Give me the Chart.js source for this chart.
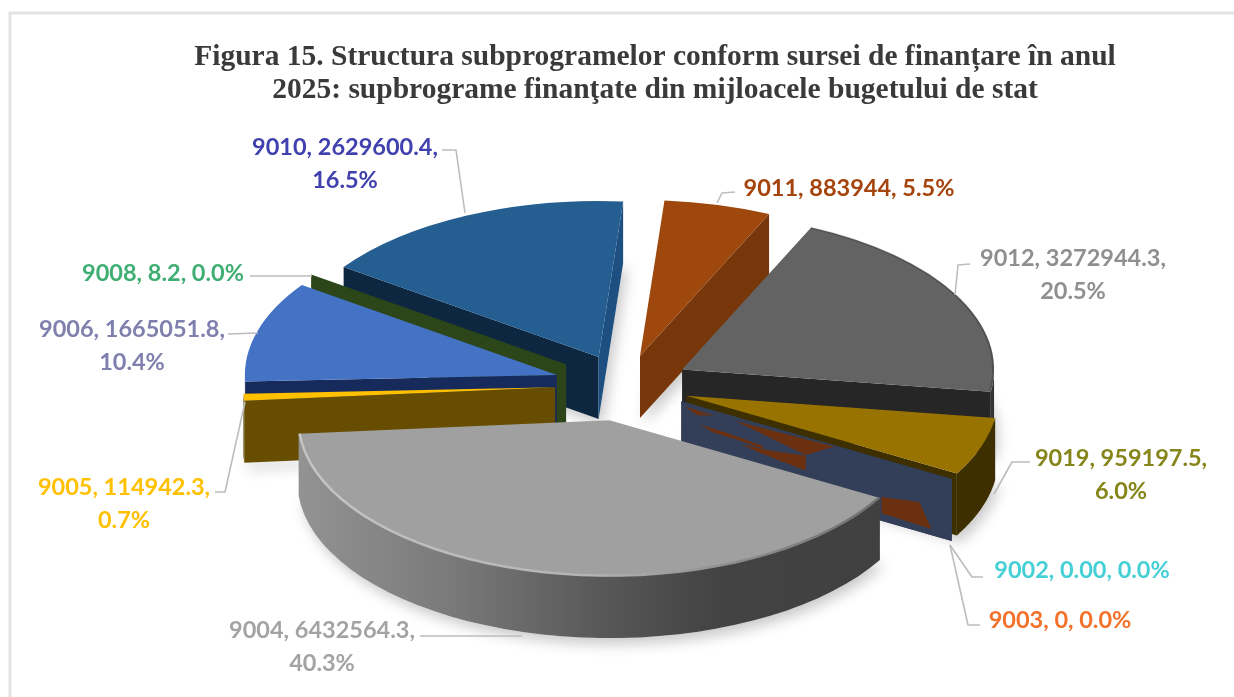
<!DOCTYPE html>
<html><head><meta charset="utf-8">
<style>html,body{margin:0;padding:0;background:#fff;overflow:hidden}canvas{display:block;filter:blur(.55px)}</style>
<script src="https://cdn.jsdelivr.net/npm/chart.js@4"></script>
</head><body><canvas id="c" width="1234" height="697"></canvas>
<script>
const titleLines = ['Figura 15. Structura subprogramelor conform sursei de finanțare în anul','2025: supbrograme finanţate din mijloacele bugetului de stat'];
const categories = ['9011','9012','9019','9002','9003','9004','9005','9006','9008','9010'];
const values = [883944,3272944.3,959197.5,0,0,6432564.3,114942.3,1665051.8,8.2,2629600.4];
const valueTexts = ['883944','3272944.3','959197.5','0.00','0','6432564.3','114942.3','1665051.8','8.2','2629600.4'];
const topColors = ['#9e480e','#636363','#997300','#333f58','#6b3010','#a0a0a0','#ffc000','#4472c4','#2c4619','#255e91'];
const startWall = ['#77370a','#262626','#3d2f00','#333f58','#333f58',null,'#664d00','#172a5c','#2c4619','#0e2741'];
const endWall   = ['#77370a','#262626','#3d2f00','#333f58','#333f58',null,'#664d00','#172a5c','#2c4619','#1d5080'];
const rimWall   = ['#77370a','#333333','#3d2f00','#333f58','#333f58','#777777','#664d00','#172a5c','#2c4619','#1d5080'];
const labelColors = ['#a5430c','#8f8f8f','#85851a','#45d0d6','#f2722b','#a3a3a3','#ffc000','#8080ae','#3fae72','#4040ae'];
const explode = [60,65,65,65,65,72,70,71,72,62];
const paintOrder = [0,9,8,7,6,1,2,3,4,5];
const labelBoxes = [[849,188,0],[1073,258,1],[1121,458,1],[1082,570,0],[1060,620,0],[322,630,1],[124,487,1],[132,329,1],[163,273,0],[345,147,1]];
const leaders = [[[735,192],[722,193],[717,203]],[[970,264],[958,265],[955,295]],[[1030,462],[1012,462],[994,494]],[[983,577],[972,577],[950,545]],[[980,625],[968,625],[950,545]],[[420,636],[522,636]],[[215,492],[225,492],[245,402]],[[228,334],[258,333]],[[250,276],[312,276]],[[442,150],[456,150],[465,213]]];
const shards = [[[.2,.07],[.565,.02],[.46,.29]],[[.74,.615],[.88,.52],[.925,.9],[.74,.88]],[[.01,.07],[.12,.08],[.06,.15]],[[.07,.29],[.17,.3],[.3,.34],[.3,.39],[.2,.36],[.12,.36]],[[.22,.42],[.34,.38],[.46,.3],[.46,.54],[.36,.5],[.28,.46]]];
const total = values.reduce((a,b)=>a+b,0);
const CX = 625, CY = 385, K = 0.5, DEPTH = 62;

const pie3d = {
  id:'pie3d',
  beforeDraw(chart){
    const c = chart.ctx;
    c.save(); c.fillStyle='#fff'; c.fillRect(0,0,chart.width,chart.height);
    c.strokeStyle='#e3e3e3'; c.lineWidth=3; c.strokeRect(10,13,1300,800); c.restore();
  },
  beforeDatasetDraw(chart,args){
    const c = chart.ctx, arcs = chart.getDatasetMeta(args.index).data;
    const geo = i => {
      const el = arcs[i], m = (el.startAngle+el.endAngle)/2;
      const ex = Math.cos(m)*explode[i], ey = Math.sin(m)*explode[i];
      const pt = (a,r,d=0)=>[CX+ex+r*Math.cos(a), CY+K*ey+K*r*Math.sin(a)+d];
      return {el,ex,ey,pt,r:el.outerRadius};
    };
    const poly = (pts,fill)=>{c.beginPath();pts.forEach((p,j)=>j?c.lineTo(p[0],p[1]):c.moveTo(p[0],p[1]));c.closePath();c.fillStyle=fill;c.fill();};
    const radial = (g,a,col)=>poly([g.pt(a,0),g.pt(a,g.r),g.pt(a,g.r,DEPTH),g.pt(a,0,DEPTH)],col);
    // soft ground shadow
    c.save(); c.shadowColor='rgba(0,0,0,.22)'; c.shadowBlur=14; c.shadowOffsetX=4; c.shadowOffsetY=6;
    paintOrder.forEach(i=>{
      const g=geo(i), el=g.el; if(el.endAngle-el.startAngle<.01) return;
      const pts=[g.pt(0,0,DEPTH)];
      for(let j=0;j<=30;j++) pts.push(g.pt(el.startAngle+(el.endAngle-el.startAngle)*j/30,g.r,DEPTH));
      poly(pts,'#fff');
    });
    c.restore();
    paintOrder.forEach(i=>{
      const g=geo(i), el=g.el, a0=el.startAngle, a1=el.endAngle, zero=a1-a0<.001;
      if(startWall[i] && (zero || -Math.cos(a0)>0)) radial(g,a0,startWall[i]);
      if(!zero && endWall[i] && Math.cos(a1)>0) radial(g,a1,endWall[i]);
      if(categories[i]==='9003'){
        const len=g.pt(a0,g.r), o=g.pt(a0,0);
        shards.forEach(s=>poly(s.map(([t,d])=>[o[0]+t*(len[0]-o[0]),o[1]+t*(len[1]-o[1])+d*DEPTH]),topColors[i]));
      }
      const s=Math.max(a0,0), e=Math.min(a1,Math.PI);
      if(e>s){
        const up=[],dn=[];
        for(let j=0;j<=40;j++){const a=s+(e-s)*j/40;up.push(g.pt(a,g.r));dn.unshift(g.pt(a,g.r,DEPTH));}
        let fill=rimWall[i];
        if(categories[i]==='9004'){
          fill=c.createLinearGradient(297,0,882,0);
          fill.addColorStop(0,'#939393');fill.addColorStop(.26,'#7a7a7a');fill.addColorStop(.52,'#585858');fill.addColorStop(.72,'#434343');fill.addColorStop(1,'#404040');
        }
        poly(up.concat(dn),fill);
      }
      if(!zero){
        c.save();
        c.translate(CX,CY); c.scale(1,K); c.translate(g.ex,g.ey); c.translate(-el.x,-el.y);
        el.draw(c);
        c.restore();
        c.beginPath();
        for(let j=0;j<=40;j++){const p=g.pt(a0+(a1-a0)*j/40,g.r-1); j?c.lineTo(p[0],p[1]):c.moveTo(p[0],p[1]);}
        if(categories[i]==='9004'){
          const gr=c.createLinearGradient(297,0,882,0);
          gr.addColorStop(0,'#c4c4c4');gr.addColorStop(.5,'#b4b4b4');gr.addColorStop(.75,'#8c8c8c');gr.addColorStop(1,'#707070');
          c.strokeStyle=gr; c.lineWidth=2.5; c.stroke();
        } else if(categories[i]==='9012'){ c.strokeStyle='rgba(0,0,0,.18)'; c.lineWidth=2; c.stroke(); }
      }
    });
    return false;
  },
  afterDraw(chart){
    const c=chart.ctx;
    c.save();
    c.strokeStyle='#bdbdbd'; c.lineWidth=1.6; c.lineJoin='round';
    leaders.forEach(l=>{c.beginPath();l.forEach((p,j)=>j?c.lineTo(p[0],p[1]):c.moveTo(p[0],p[1]));c.stroke();});
    c.font='bold 23.5px Lato'; c.textAlign='center'; c.textBaseline='middle';
    categories.forEach((cat,i)=>{
      const pct=(values[i]/total*100).toFixed(1)+'%';
      const [x,y,two]=labelBoxes[i];
      c.fillStyle=labelColors[i];
      if(two){
        c.fillText(`${cat}, ${valueTexts[i]},`,x,y);
        c.fillText(pct,x,y+33);
      } else c.fillText(`${cat}, ${valueTexts[i]}, ${pct}`,x,y);
    });
    c.restore();
  }
};

new Chart(document.getElementById('c'),{
  type:'pie',
  data:{labels:categories,datasets:[{data:values,backgroundColor:topColors,borderWidth:0,radius:312,clip:false}]},
  plugins:[pie3d],
  options:{
    responsive:false,animation:false,rotation:4.5,
    layout:{padding:{left:76,top:24}},
    plugins:{
      legend:{display:false},tooltip:{enabled:false},
      title:{display:true,text:titleLines,color:'#3a3a3a',align:'center',padding:{top:17,bottom:0},
        font:{family:'"Liberation Serif"',size:29.5,weight:'bold',lineHeight:1.12}}
    }
  }
});
</script></body></html>
